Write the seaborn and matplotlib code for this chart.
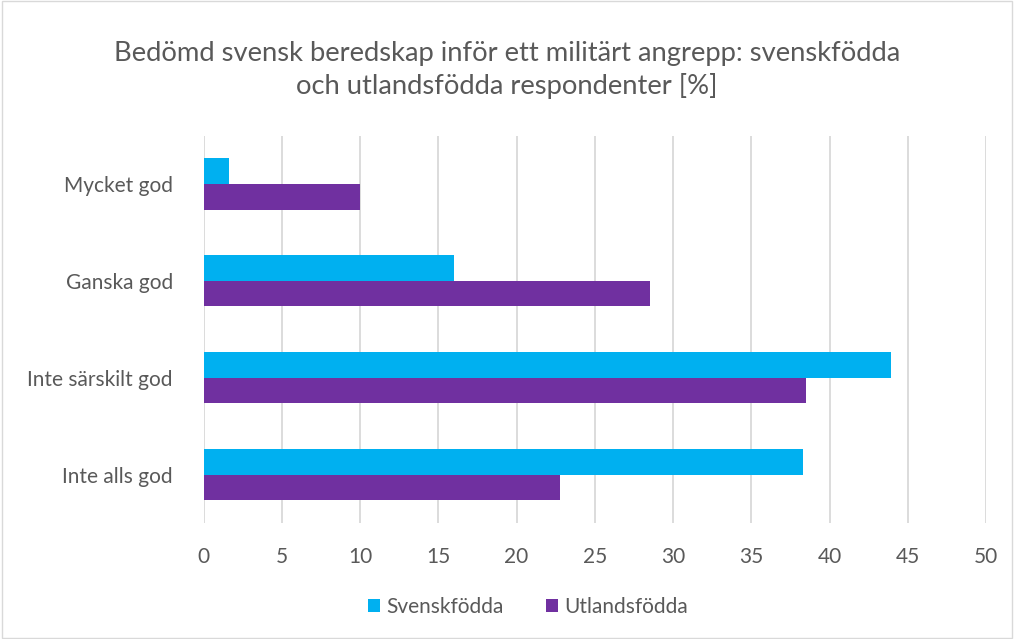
import pandas as pd
import seaborn as sns
import matplotlib.pyplot as plt
from matplotlib.patches import Rectangle

# Data
kategorier = ['Mycket god', 'Ganska god', 'Inte särskilt god', 'Inte alls god']
svenskfodda = [1.6, 16.0, 43.9, 38.3]
utlandsfodda = [10.0, 28.5, 38.5, 22.8]
serier = ['Svenskfödda', 'Utlandsfödda']
farger = ['#00B0F0', '#7030A0']

df = pd.DataFrame({
    'Kategori': kategorier * 2,
    'Grupp': [serier[0]] * 4 + [serier[1]] * 4,
    'Andel': svenskfodda + utlandsfodda,
})

sns.set_style('white')
plt.rcParams['font.family'] = ['Lato', 'DejaVu Sans']
textfarg = '#595959'

fig = plt.figure(figsize=(10.14, 6.39), dpi=100)
ax = fig.add_axes([203.5 / 1014, 1 - 523 / 639, (986 - 203.5) / 1014, (523 - 135.5) / 639])

sns.barplot(data=df, y='Kategori', x='Andel', hue='Grupp', order=kategorier,
            hue_order=serier, palette=farger, orient='h', width=0.53,
            saturation=1, linewidth=0, ax=ax, legend=True)

ax.set_xlim(0, 50)
ax.set_xticks(range(0, 51, 5))
ax.grid(axis='x', color='#D9D9D9', linewidth=1.3)
ax.grid(axis='y', visible=False)
ax.set_axisbelow(True)
for s in ax.spines.values():
    s.set_visible(False)
ax.set_xlabel('')
ax.set_ylabel('')
ax.tick_params(axis='both', length=0, labelsize=15, colors=textfarg)
ax.tick_params(axis='x', pad=17)
ax.tick_params(axis='y', pad=22)

ax.legend(loc='center', bbox_to_anchor=(528 / 1014, 1 - 607 / 639),
          bbox_transform=fig.transFigure, ncol=2, frameon=False,
          fontsize=15, labelcolor=textfarg, handlelength=0.6, handleheight=0.6,
          columnspacing=2.0, handletextpad=0.3)

fig.text(0.5, 1 - 70 / 639,
         'Bedömd svensk beredskap inför ett militärt angrepp: svenskfödda\noch utlandsfödda respondenter [%]',
         ha='center', va='center', fontsize=19.7, color=textfarg, linespacing=1.38)

fig.patches.append(Rectangle((0.002, 0.002), 0.996, 0.996, transform=fig.transFigure,
                             fill=False, edgecolor='#D9D9D9', linewidth=1))

fig.savefig('out.png', dpi=100)
